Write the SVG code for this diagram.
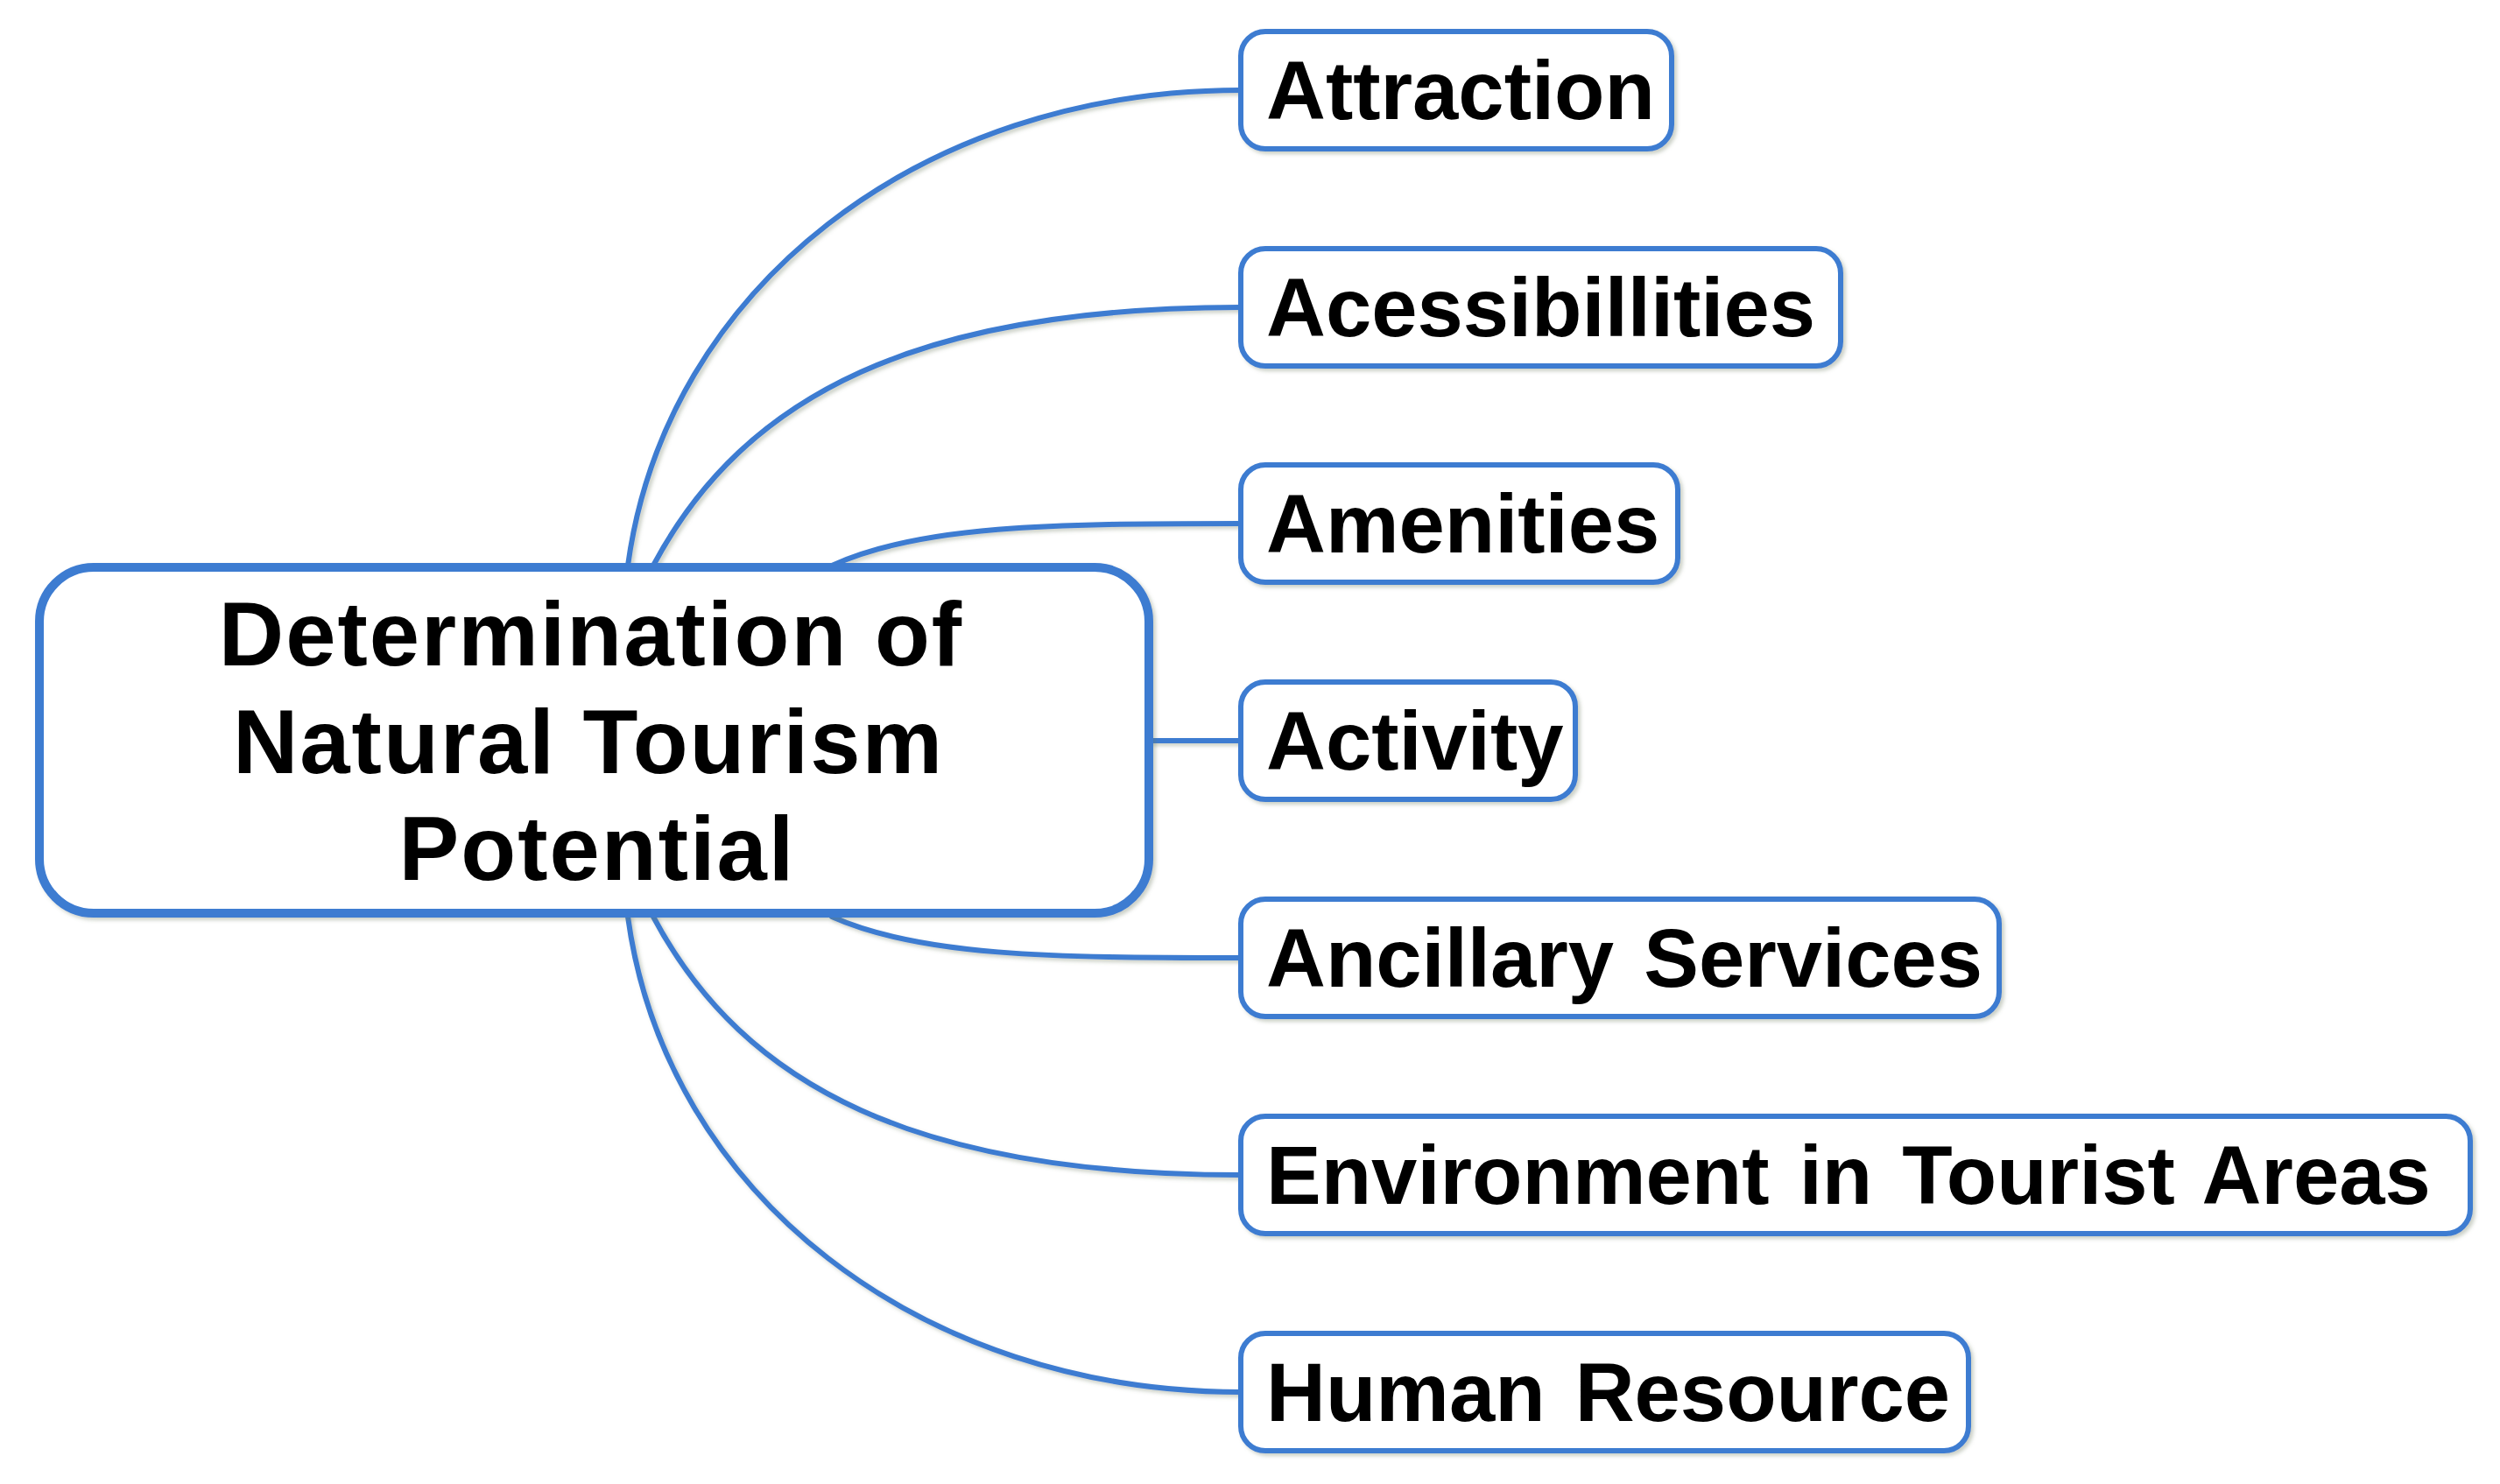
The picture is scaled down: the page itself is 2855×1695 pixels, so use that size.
<svg xmlns="http://www.w3.org/2000/svg" width="2855" height="1695" viewBox="0 0 2855 1695">
<style>
.con{fill:none;stroke:#3d7bd1;stroke-width:6;stroke-linecap:round}
.box{fill:#ffffff;stroke:#3d7bd1;stroke-width:6}
.main{fill:#ffffff;stroke:#3d7bd1;stroke-width:10}
.lbl{font-family:"Liberation Sans",Arial,sans-serif;font-weight:bold;font-size:94px;fill:#000;word-spacing:8px}
.mlbl{font-family:"Liberation Sans",Arial,sans-serif;font-weight:bold;font-size:103px;fill:#000;text-anchor:middle;letter-spacing:2px}
</style>
<defs>
<filter id="sh" x="-10%" y="-10%" width="120%" height="130%">
<feDropShadow dx="3" dy="3" stdDeviation="2" flood-color="#6b7a60" flood-opacity="0.35"/>
</filter>
</defs>
<rect width="2855" height="1695" fill="#ffffff"/>
<g id="connectors" filter="url(#sh)">
<path class="con" d="M717 646 C760 330 1050 103 1417 103"/>
<path class="con" d="M746 646 C850 450 1050 351 1417 351"/>
<path class="con" d="M950 646 C1050 600 1200 598 1417 598"/>
<path class="con" d="M1315 846 L1417 846"/>
<path class="con" d="M950 1047 C1050 1092 1200 1094 1417 1094"/>
<path class="con" d="M746 1047 C850 1243 1050 1342 1417 1342"/>
<path class="con" d="M717 1047 C760 1363 1050 1590 1417 1590"/>
</g>
<g id="main" filter="url(#sh)">
<rect class="main" x="45" y="648" width="1267" height="395" rx="62"/>
<text class="mlbl" x="675" y="760">Determination of</text>
<text class="mlbl" x="672" y="883">Natural Tourism</text>
<text class="mlbl" x="682" y="1005">Potential</text>
</g>
<g id="n1" filter="url(#sh)"><rect class="box" x="1417" y="36" width="492" height="134" rx="28"/><text class="lbl" x="1446" y="136">Attraction</text></g>
<g id="n2" filter="url(#sh)"><rect class="box" x="1417" y="284" width="685" height="134" rx="28"/><text class="lbl" x="1446" y="384">Acessibillities</text></g>
<g id="n3" filter="url(#sh)"><rect class="box" x="1417" y="531" width="499" height="134" rx="28"/><text class="lbl" x="1446" y="631">Amenities</text></g>
<g id="n4" filter="url(#sh)"><rect class="box" x="1417" y="779" width="382" height="134" rx="28"/><text class="lbl" x="1446" y="879">Activity</text></g>
<g id="n5" filter="url(#sh)"><rect class="box" x="1417" y="1027" width="866" height="134" rx="28"/><text class="lbl" x="1446" y="1127" word-spacing="16">Ancillary Services</text></g>
<g id="n6" filter="url(#sh)"><rect class="box" x="1417" y="1275" width="1404" height="134" rx="28"/><text class="lbl" x="1446" y="1375">Environment in Tourist Areas</text></g>
<g id="n7" filter="url(#sh)"><rect class="box" x="1417" y="1523" width="831" height="134" rx="28"/><text class="lbl" x="1446" y="1623" word-spacing="20">Human Resource</text></g>
</svg>
